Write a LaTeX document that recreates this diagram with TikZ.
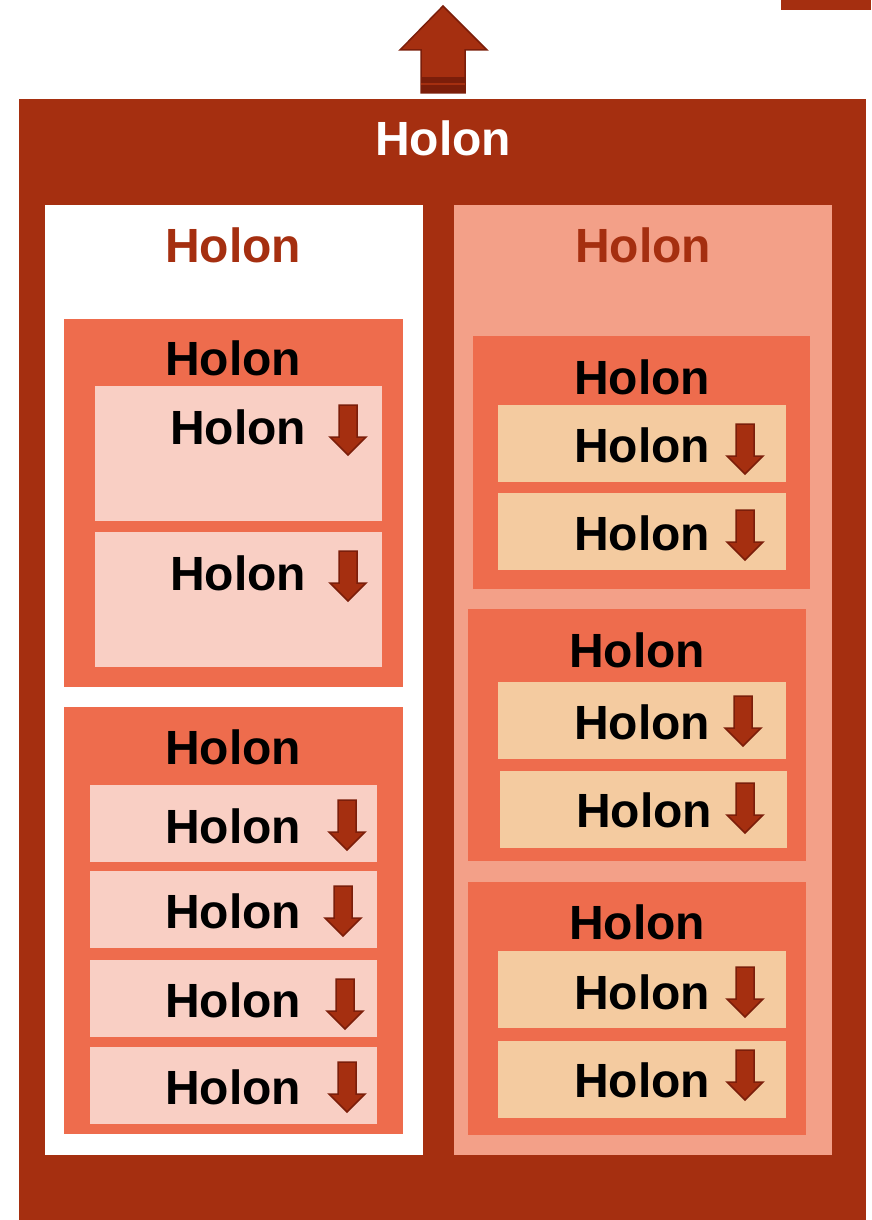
\documentclass[tikz,border=0pt]{standalone}
\usepackage{fontspec}
\setmainfont{Liberation Sans}
\usepackage{xcolor}
\usetikzlibrary{positioning}

\definecolor{holonred}{HTML}{A52F10}
\definecolor{holondark}{HTML}{7B1E0A}
\definecolor{holonorange}{HTML}{EE6C4D}
\definecolor{holonsalmon}{HTML}{F3A088}
\definecolor{holonpink}{HTML}{F9CFC4}
\definecolor{holonpeach}{HTML}{F4CBA0}

% small down arrow, top centre at (#1,#2)
\newcommand{\holondown}[2]{%
  \filldraw[darr] (#1-9,#2) -- (#1+9,#2) -- (#1+9,#2+32) -- (#1+18,#2+32)
    -- (#1,#2+50) -- (#1-18,#2+32) -- (#1-9,#2+32) -- cycle;}

\begin{document}
\begin{tikzpicture}[
  x=1pt, y=-1pt,
  every node/.style={font=\fontsize{48}{54}\bfseries\selectfont, inner sep=0pt},
  title/.style={text=black},
  darr/.style={fill=holonred, draw=holondark, line width=1.5pt, line join=miter}
]
\useasboundingbox (0,0) rectangle (871,1220);

% top strip
\fill[holonred] (781,0) rectangle (871,10);
\filldraw[darr] (443,6) -- (487,50) -- (465,50) -- (465,93) -- (421,93)
  -- (421,50) -- (400,50) -- cycle;
\fill[holondark] (421,77) rectangle (465,93);
\draw[holonred, line width=1.2pt] (421,84) -- (465,84);

% outer holon
\fill[holonred] (19,99) rectangle (866,1220);
\node[text=white] (top) at (443,138) {Holon};

% left and right columns
\fill[white] (45,205) rectangle (423,1155);
\node[text=holonred] (left) at (233,245) {Holon};
\fill[holonsalmon] (454,205) rectangle (832,1155);
\node[text=holonred] (right) at (643,245) {Holon};

% left column
\fill[holonorange] (64,319) rectangle (403,687);
\node[title] (l1) at (233,358) {Holon};
\fill[holonpink] (95,386) rectangle (382,521);
\node (l1a) at (238,427) {Holon};
\holondown{348}{405}
\fill[holonpink] (95,532) rectangle (382,667);
\node (l1b) at (238,573) {Holon};
\holondown{348}{551}

\fill[holonorange] (64,707) rectangle (403,1134);
\node[title] (l2) at (233,747) {Holon};
\fill[holonpink] (90,785) rectangle (377,862);
\node (l2a) at (233,826) {Holon};
\holondown{347}{800}
\fill[holonpink] (90,871) rectangle (377,948);
\node (l2b) at (233,911) {Holon};
\holondown{343}{886}
\fill[holonpink] (90,960) rectangle (377,1037);
\node (l2c) at (233,1000) {Holon};
\holondown{345}{979}
\fill[holonpink] (90,1047) rectangle (377,1124);
\node (l2d) at (233,1087) {Holon};
\holondown{347}{1062}

% right column
\fill[holonorange] (473,336) rectangle (810,589);
\node[title] (r1) at (642,377) {Holon};
\fill[holonpeach] (498,405) rectangle (786,482);
\node (r1a) at (642,445) {Holon};
\holondown{745}{424}
\fill[holonpeach] (498,493) rectangle (786,570);
\node (r1b) at (642,533) {Holon};
\holondown{745}{510}

\fill[holonorange] (468,609) rectangle (806,861);
\node[title] (r2) at (637,650) {Holon};
\fill[holonpeach] (498,682) rectangle (786,759);
\node (r2a) at (642,722) {Holon};
\holondown{743}{696}
\fill[holonpeach] (500,771) rectangle (787,848);
\node (r2b) at (644,810) {Holon};
\holondown{745}{783}

\fill[holonorange] (468,882) rectangle (806,1135);
\node[title] (r3) at (637,922) {Holon};
\fill[holonpeach] (498,951) rectangle (786,1028);
\node (r3a) at (642,992) {Holon};
\holondown{745}{967}
\fill[holonpeach] (498,1041) rectangle (786,1118);
\node (r3b) at (642,1080) {Holon};
\holondown{745}{1050}
\end{tikzpicture}
\end{document}
